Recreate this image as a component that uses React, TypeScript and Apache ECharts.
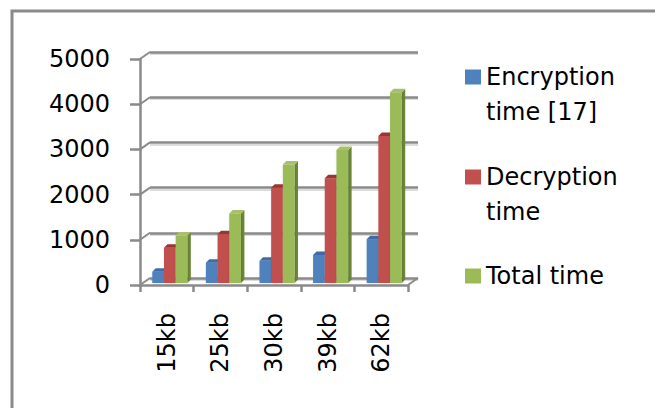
import React, { useEffect, useRef } from "react";
import * as echarts from "echarts";

// File sizes and timings
const categories = ["15kb", "25kb", "30kb", "39kb", "62kb"];
const encryptionTime = [250, 450, 490, 620, 970];
const decryptionTime = [780, 1080, 2110, 2320, 3250];
const totalTime = [1050, 1540, 2620, 2940, 4220];
const yTicks = [0, 1000, 2000, 3000, 4000, 5000];

const seriesNames = ["Encryption time [17]", "Decryption time", "Total time"];
const legendLabels = ["\nEncryption\ntime [17]", "\nDecryption\ntime", "Total time"];

const FONT = "DejaVu Sans";
const AXIS_GRAY = "#8a8a8a";

// Faces of each 3D column: front, top, side
const palettes = [
  { front: "#4F81BD", top: "#3F6CA4", side: "#385D8A" },
  { front: "#C0504D", top: "#9A3532", side: "#8C3836" },
  { front: "#9BBB59", top: "#A6C16A", side: "#6E8A3C" },
];

// depth of the back wall relative to the front axes
const WALL_DX = 10;
const WALL_DY = -7;

function columnRenderer(k: number, pal: { front: string; top: string; side: string }) {
  return (params: any, api: any) => {
    const idx = api.value(0);
    const val = api.value(1);
    const base = api.coord([idx, 0]);
    const tip = api.coord([idx, val]);
    const band = api.size([1, 0])[0];
    const w = band * 0.218;
    const x = base[0] - 1.5 * w + k * w + 3;
    const yb = base[1] - 2;
    const yt = tip[1] - 2;
    const d = 3.5;
    return {
      type: "group",
      children: [
        {
          type: "polygon",
          shape: { points: [[x + w, yt], [x + w + d, yt - d], [x + w + d, yb - d], [x + w, yb]] },
          style: { fill: pal.side },
        },
        {
          type: "rect",
          shape: { x, y: yt, width: w, height: yb - yt },
          style: { fill: pal.front, shadowBlur: 3, shadowColor: "rgba(0,0,0,0.18)", shadowOffsetX: 1, shadowOffsetY: 0 },
        },
        {
          type: "polygon",
          shape: { points: [[x, yt], [x + w, yt], [x + w + d, yt - d], [x + d, yt - d]] },
          style: { fill: pal.top },
        },
      ],
    };
  };
}

// short diagonals joining the front axes to the back wall
function wallConnector(params: any, api: any) {
  const v = api.value(1);
  const y = api.coord([0, v])[1];
  const cs = params.coordSys;
  const children: any[] = [
    {
      type: "line",
      shape: { x1: cs.x, y1: y, x2: cs.x + WALL_DX, y2: y + WALL_DY },
      style: { stroke: AXIS_GRAY, lineWidth: 2 },
    },
  ];
  if (v === 0) {
    children.push({
      type: "line",
      shape: { x1: cs.x + cs.width, y1: y, x2: cs.x + cs.width + WALL_DX, y2: y + WALL_DY },
      style: { stroke: AXIS_GRAY, lineWidth: 2 },
    });
  }
  return { type: "group", children };
}

const hiddenValueAxis = (gridIndex: number, color: string, width: number) => ({
  type: "value",
  gridIndex,
  min: 0,
  max: 5000,
  interval: 1000,
  axisLine: { show: false },
  axisTick: { show: false },
  axisLabel: { show: false },
  splitLine: { show: true, lineStyle: { color, width } },
});

export default function App() {
  const ref = useRef<HTMLDivElement>(null);

  useEffect(() => {
    if (!ref.current) return;
    const chart = echarts.init(ref.current, undefined, { renderer: "svg" });
    const values = [encryptionTime, decryptionTime, totalTime];

    const legendTops = [24.5, 124.5, 258.5];

    chart.setOption({
      animation: false,
      backgroundColor: "#ffffff",
      graphic: [
        {
          type: "rect",
          shape: { x: 12, y: 11, width: 720, height: 460 },
          style: { fill: "none", stroke: AXIS_GRAY, lineWidth: 3 },
          silent: true,
        },
      ],
      legend: seriesNames.map((name, i) => ({
        data: [name],
        orient: "vertical",
        left: 465,
        top: legendTops[i],
        padding: 0,
        icon: "rect",
        itemWidth: 16,
        itemHeight: 15,
        selectedMode: false,
        formatter: () => legendLabels[i],
        textStyle: { fontFamily: FONT, fontSize: 24, lineHeight: 35, color: "#000" },
      })),
      grid: [
        { left: 140, top: 59, width: 268, height: 226 },
        // back wall and its soft shadow just beneath
        { left: 140 + WALL_DX, top: 59 + WALL_DY, width: 268, height: 226 },
        { left: 140 + WALL_DX, top: 59 + WALL_DY + 2, width: 268, height: 226 },
      ],
      xAxis: [
        {
          type: "category",
          gridIndex: 0,
          data: categories,
          axisLine: { lineStyle: { color: AXIS_GRAY, width: 2.5 } },
          axisTick: { show: true, length: 7, lineStyle: { color: AXIS_GRAY, width: 2.5 } },
          axisLabel: { rotate: 90, margin: 28, fontFamily: FONT, fontSize: 24, color: "#000" },
          splitLine: { show: false },
        },
        { type: "category", gridIndex: 1, data: categories, show: false },
        { type: "category", gridIndex: 2, data: categories, show: false },
      ],
      yAxis: [
        {
          type: "value",
          gridIndex: 0,
          min: 0,
          max: 5000,
          interval: 1000,
          axisLine: { show: true, lineStyle: { color: AXIS_GRAY, width: 2.5 } },
          axisTick: { show: true, length: 10, lineStyle: { color: AXIS_GRAY, width: 2.5 } },
          axisLabel: {
            margin: 30,
            fontFamily: FONT,
            fontSize: 24,
            color: "#000",
            formatter: (v: number) => String(v),
          },
          splitLine: { show: false },
        },
        { ...hiddenValueAxis(1, AXIS_GRAY, 2.5), z: 1 },
        { ...hiddenValueAxis(2, "#dcdcdc", 2), z: 0 },
      ],
      series: [
        {
          type: "custom",
          name: "wall",
          xAxisIndex: 0,
          yAxisIndex: 0,
          silent: true,
          data: yTicks.map((v) => [0, v]),
          renderItem: wallConnector,
          z: 1,
        },
        ...seriesNames.map((name, k) => ({
          type: "custom",
          name,
          xAxisIndex: 0,
          yAxisIndex: 0,
          itemStyle: { color: palettes[k].front },
          data: categories.map((_, i) => [i, values[k][i]]),
          encode: { x: 0, y: 1 },
          renderItem: columnRenderer(k, palettes[k]),
          z: 3,
        })),
      ],
    });

    return () => chart.dispose();
  }, []);

  return (
    <div
      ref={ref}
      style={{ position: "absolute", left: 0, top: 0, width: 655, height: 408, background: "#fff" }}
    />
  );
}
